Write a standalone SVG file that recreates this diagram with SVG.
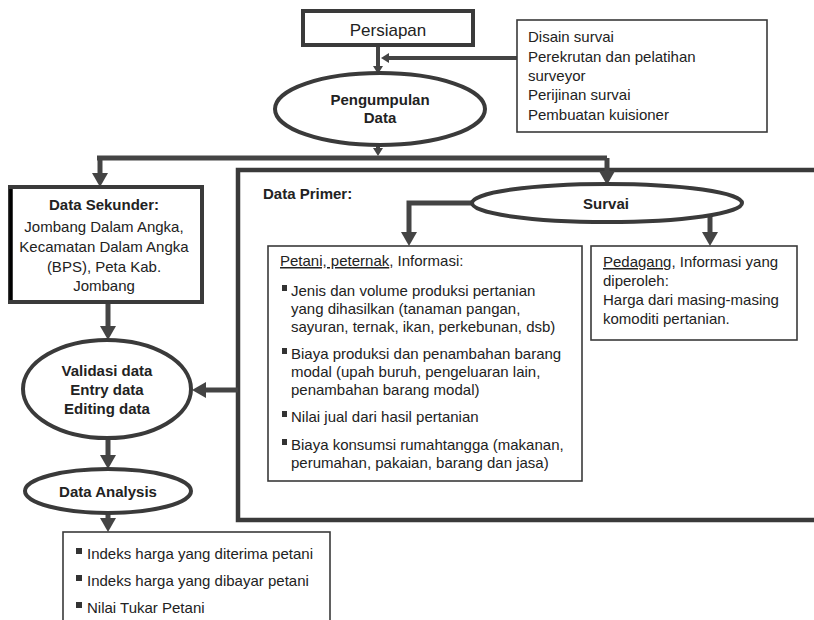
<svg xmlns="http://www.w3.org/2000/svg" width="814" height="620" viewBox="0 0 814 620">
<style>
  text { font-family: "Liberation Sans", Arial, sans-serif; font-size: 15px; fill: #222; }
  .b { font-weight: bold; }
  .c { text-anchor: middle; }
  .thick { fill: #fff; stroke: #3a3a3a; stroke-width: 4; }
  .thin { fill: #fff; stroke: #3a3a3a; stroke-width: 1.6; }
  .con { fill: none; stroke: #444; stroke-width: 5; }
  .cons { fill: none; stroke: #444; stroke-width: 4; }
  .bul { fill: #333; }
  .u { text-decoration: underline; }
</style>
<defs>
  <marker id="ah" markerUnits="userSpaceOnUse" viewBox="0 0 14 16" markerWidth="14" markerHeight="16" refX="6" refY="8" orient="auto">
    <path d="M0,0 L14,8 L0,16 z" fill="#444"/>
  </marker>
  <marker id="ahs" markerUnits="userSpaceOnUse" viewBox="0 0 8 10" markerWidth="8" markerHeight="10" refX="3" refY="5" orient="auto">
    <path d="M0,0 L8,5 L0,10 z" fill="#444"/>
  </marker>
</defs>
<rect width="814" height="620" fill="#fff"/>

<g id="primer">
  <path d="M820,170 L238,170 L238,520 L820,520" fill="none" stroke="#3a3a3a" stroke-width="4.5"/>
  <text class="b" x="263" y="199">Data Primer:</text>
</g>

<g id="connectors">
  <line class="cons" x1="378" y1="45" x2="378" y2="69" marker-end="url(#ahs)"/>
  <line class="cons" x1="517" y1="58" x2="386" y2="58" marker-end="url(#ahs)"/>
  <line class="cons" x1="378" y1="145" x2="378" y2="151" marker-end="url(#ahs)"/>
  <path class="con" d="M97,158 L607,158"/>
  <line class="con" x1="100" y1="158" x2="100" y2="179" marker-end="url(#ah)"/>
  <line class="con" x1="607" y1="158" x2="607" y2="177" marker-end="url(#ah)"/>
  <path class="con" d="M473,203 L409,203 L409,238" marker-end="url(#ah)"/>
  <line class="con" x1="710" y1="215" x2="710" y2="238" marker-end="url(#ah)"/>
  <line class="con" x1="108" y1="302" x2="108" y2="332" marker-end="url(#ah)"/>
  <line class="con" x1="238" y1="390" x2="200" y2="390" marker-end="url(#ah)"/>
  <line class="con" x1="108" y1="438" x2="108" y2="461" marker-end="url(#ah)"/>
  <line class="con" x1="108" y1="513" x2="108" y2="524" marker-end="url(#ah)"/>
</g>

<g id="persiapan">
  <rect class="thick" x="303" y="11" width="170" height="34"/>
  <text class="c" x="388" y="36" style="font-size:17px">Persiapan</text>
</g>

<g id="persiapan-list">
  <rect class="thin" x="517" y="20" width="250" height="112"/>
  <text x="528" y="42">Disain survai</text>
  <text x="528" y="62">Perekrutan dan pelatihan</text>
  <text x="528" y="81">surveyor</text>
  <text x="528" y="100">Perijinan survai</text>
  <text x="528" y="120">Pembuatan kuisioner</text>
</g>

<g id="pengumpulan">
  <ellipse class="thick" cx="380" cy="109" rx="105" ry="36"/>
  <text class="b c" x="380" y="105">Pengumpulan</text>
  <text class="b c" x="380" y="123">Data</text>
</g>

<g id="sekunder">
  <rect class="thick" x="10" y="187" width="192" height="115"/>
  <line x1="11" y1="189" x2="11" y2="300" stroke="#000" stroke-width="3.5"/>
  <text class="b c" x="104" y="210">Data Sekunder:</text>
  <text class="c" x="104" y="232">Jombang Dalam Angka,</text>
  <text class="c" x="104" y="252">Kecamatan Dalam Angka</text>
  <text class="c" x="104" y="272">(BPS), Peta Kab.</text>
  <text class="c" x="104" y="291">Jombang</text>
</g>

<g id="survai">
  <ellipse class="thick" cx="607" cy="203" rx="135" ry="19"/>
  <text class="b c" x="606" y="209">Survai</text>
</g>

<g id="petani">
  <rect class="thin" x="268" y="246" width="314" height="235"/>
  <text x="280" y="266"><tspan class="u">Petani, peternak</tspan>, Informasi:</text>
  <rect class="bul" x="282" y="285" width="5" height="6"/>
  <text x="291" y="296">Jenis dan volume produksi pertanian</text>
  <text x="291" y="314">yang dihasilkan (tanaman pangan,</text>
  <text x="291" y="332">sayuran, ternak, ikan, perkebunan, dsb)</text>
  <rect class="bul" x="282" y="348" width="5" height="6"/>
  <text x="291" y="359">Biaya produksi dan penambahan barang</text>
  <text x="291" y="377">modal (upah buruh, pengeluaran lain,</text>
  <text x="291" y="395">penambahan barang modal)</text>
  <rect class="bul" x="282" y="411" width="5" height="6"/>
  <text x="291" y="422">Nilai jual dari hasil pertanian</text>
  <rect class="bul" x="282" y="439" width="5" height="6"/>
  <text x="291" y="450">Biaya konsumsi rumahtangga (makanan,</text>
  <text x="291" y="468">perumahan, pakaian, barang dan jasa)</text>
</g>

<g id="pedagang">
  <rect class="thin" x="591" y="246" width="206" height="94"/>
  <text x="603" y="267"><tspan class="u">Pedagang</tspan>, Informasi yang</text>
  <text x="603" y="286">diperoleh:</text>
  <text x="603" y="305">Harga dari masing-masing</text>
  <text x="603" y="324">komoditi pertanian.</text>
</g>

<g id="validasi">
  <ellipse class="thick" cx="107" cy="389" rx="84" ry="49"/>
  <text class="b c" x="107" y="376">Validasi data</text>
  <text class="b c" x="107" y="395">Entry data</text>
  <text class="b c" x="107" y="414">Editing data</text>
</g>

<g id="analysis">
  <ellipse class="thick" cx="108" cy="491" rx="83" ry="22"/>
  <text class="b c" x="108" y="497">Data Analysis</text>
</g>

<g id="hasil">
  <rect class="thin" x="63" y="532" width="267" height="100"/>
  <rect class="bul" x="76" y="548" width="6" height="6"/>
  <text x="87" y="559">Indeks harga yang diterima petani</text>
  <rect class="bul" x="76" y="575" width="6" height="6"/>
  <text x="87" y="586">Indeks harga yang dibayar petani</text>
  <rect class="bul" x="76" y="602" width="6" height="6"/>
  <text x="87" y="613">Nilai Tukar Petani</text>
</g>
</svg>
